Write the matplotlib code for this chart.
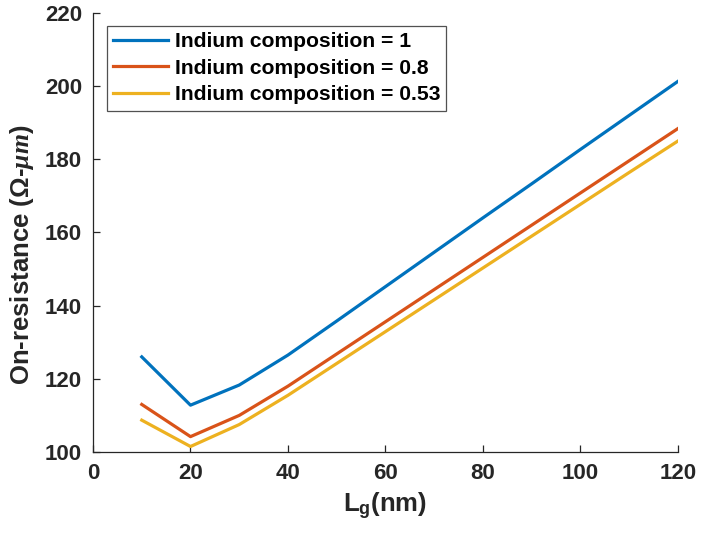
"""On-resistance vs gate length for three indium compositions."""

import matplotlib

matplotlib.use("Agg")
import matplotlib.pyplot as plt

plt.rcParams["font.family"] = ["Liberation Sans", "DejaVu Sans"]
plt.rcParams["font.weight"] = "bold"
plt.rcParams["mathtext.fontset"] = "custom"
plt.rcParams["mathtext.rm"] = "Liberation Sans:bold"
plt.rcParams["mathtext.it"] = "Liberation Serif:italic"
plt.rcParams["mathtext.bf"] = "Liberation Sans:bold"

gate_length = [10, 20, 30, 40, 50, 60, 70, 80, 90, 100, 110, 120]
r_in_1 = [126.0, 112.8, 118.3, 126.5, 135.8, 145.2, 154.6, 164.0, 173.3, 182.7, 192.0, 201.3]
r_in_08 = [113.0, 104.2, 110.0, 118.0, 126.8, 135.6, 144.4, 153.2, 162.0, 170.8, 179.6, 188.4]
r_in_053 = [108.7, 101.5, 107.5, 115.5, 124.2, 132.9, 141.6, 150.3, 159.0, 167.7, 176.4, 185.0]

labels = ["Indium composition = 1", "Indium composition = 0.8", "Indium composition = 0.53"]
colors = ["#0072BD", "#D95319", "#EDB120"]

fig = plt.figure(figsize=(7.01, 5.37), dpi=100)
ax = fig.add_axes([0.1327, 0.1583, 0.8343, 0.8175])

for series, lab, col in zip([r_in_1, r_in_08, r_in_053], labels, colors):
    ax.plot(gate_length, series, color=col, linewidth=2.3, label=lab)

ax.set_xlim(0, 120)
ax.set_ylim(100, 220)
ax.set_xticks(range(0, 121, 20))
ax.set_yticks(range(100, 221, 20))

# MATLAB-style axes: box off, ticks pointing in
ax.spines["top"].set_visible(False)
ax.spines["right"].set_visible(False)
for s in ("left", "bottom"):
    ax.spines[s].set_color("#262626")
    ax.spines[s].set_linewidth(0.9)
ax.tick_params(direction="in", length=5, width=0.9, color="#262626",
               labelsize=16, labelcolor="#262626", pad=8)
for t in ax.get_xticklabels() + ax.get_yticklabels():
    t.set_fontweight("bold")

ax.set_xlabel(r"L$_\mathbf{g}$(nm)", fontsize=18.5, fontweight="bold", color="#262626",
              labelpad=5)
ax.set_ylabel(r"On-resistance ($\mathit{\Omega}$-$\mu m$)", fontsize=18.5,
              fontweight="bold", color="#262626")
ax.yaxis.set_label_coords(-0.097, 0.45)

leg = ax.legend(loc="upper left", bbox_to_anchor=(0.024, 0.97), fontsize=15.2,
                frameon=True, fancybox=False, edgecolor="#262626",
                handlelength=2.6, handletextpad=0.3, labelspacing=0.35,
                borderpad=0.3, borderaxespad=0.0)
leg.get_frame().set_linewidth(0.9)
for t in leg.get_texts():
    t.set_fontweight("bold")

fig.savefig("out.png", dpi=100)
plt.close(fig)
